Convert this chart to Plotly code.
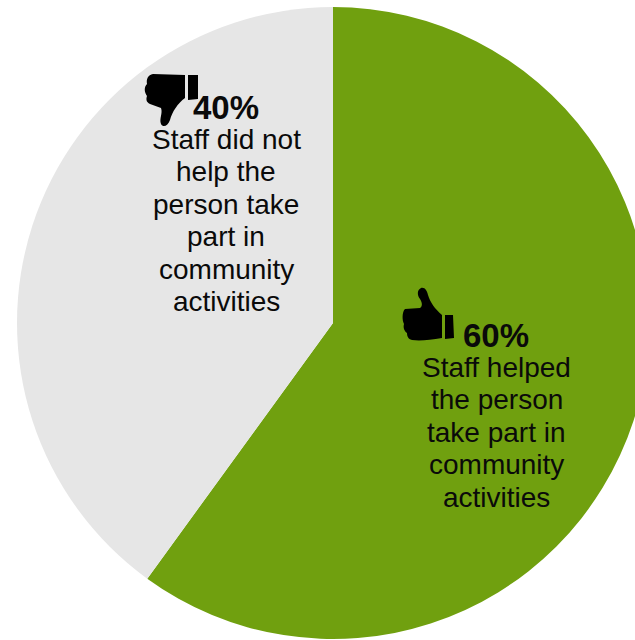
import plotly.graph_objects as go

categories = ["Staff helped the person take part in community activities",
              "Staff did not help the person take part in community activities"]
values = [60, 40]
colors = ["#70A00F", "#E6E6E6"]
lines_yes = ["Staff helped", "the person", "take part in", "community", "activities"]
lines_no = ["Staff did not", "help the", "person take", "part in", "community", "activities"]

W, H = 666, 640

def px(x): return x / W
def py(y): return 1 - y / H

# icon outlines: (command, x, y, ...) in page pixels, y measured from the top
THUMB_UP = ("M 405 309 L 420 308 C 423 306 422 302 420 299 C 417 295 417 290 421 288 "
            "C 425 287 427 291 428 295 C 430 302 435 309 442 315 L 442 338 "
            "C 430 340 420 341 412 340 C 408 339 407 336 407 333 C 404 331 403 327 404 324 "
            "C 402 320 402 312 405 309 Z M 445 315 L 453 315 L 454 338 L 445 339 Z")
THUMB_DOWN = ("M 153 74 L 185 75 L 185 98 C 178 103 172 112 170 120 C 168 126 163 128 161 124 "
              "C 159 119 163 113 161 108 L 150 104 C 146 102 146 99 147 96 C 144 92 144 87 147 84 "
              "C 146 79 148 75 153 74 Z M 188 75 L 198 75 L 198 99 L 188 100 Z")

def flip(path):
    out, n = [], 0
    for tok in path.split():
        if tok.isalpha():
            out.append(tok); n = 0
        else:
            out.append(tok if n % 2 == 0 else str(-float(tok))); n += 1
    return " ".join(out)

fig = go.Figure(go.Pie(
    labels=categories, values=values, sort=False, direction="clockwise", rotation=0,
    marker=dict(colors=colors, line=dict(width=0)),
    textinfo="none", hoverinfo="label+percent", showlegend=False,
    domain=dict(x=[0, 1], y=[1 / 640, 633 / 640]),
))

def note(x, y, text, size, bold=False):
    fig.add_annotation(x=px(x), y=py(y), xref="paper", yref="paper", text=f"<b>{text}</b>" if bold else text,
                       showarrow=False, xanchor="center", yanchor="middle", align="center",
                       font=dict(family="Liberation Sans, Arial, sans-serif", size=size, color="#0a0a0a"))

for i, line in enumerate(lines_no):
    note(226, 139.5 + i * 32.4, line, 28)
note(226, 107, "40%", 33, True)
for i, line in enumerate(lines_yes):
    note(496.5, 367.5 + i * 32.4, line, 28)
note(496, 335, "60%", 33, True)

for path in [THUMB_UP, THUMB_DOWN]:
    fig.add_shape(type="path", path=flip(path), xsizemode="pixel", ysizemode="pixel",
                  xanchor=0, yanchor=1, xref="paper", yref="paper",
                  fillcolor="#000000", line=dict(width=0))

fig.update_layout(width=W, height=H, autosize=False, margin=dict(l=0, r=0, t=0, b=0),
                  paper_bgcolor="#FFFFFF", plot_bgcolor="#FFFFFF")
fig.write_html("out.html", config={"displayModeBar": False},
               post_script="document.documentElement.style.overflow='hidden';document.body.style.margin='0';document.body.style.overflow='hidden';")
